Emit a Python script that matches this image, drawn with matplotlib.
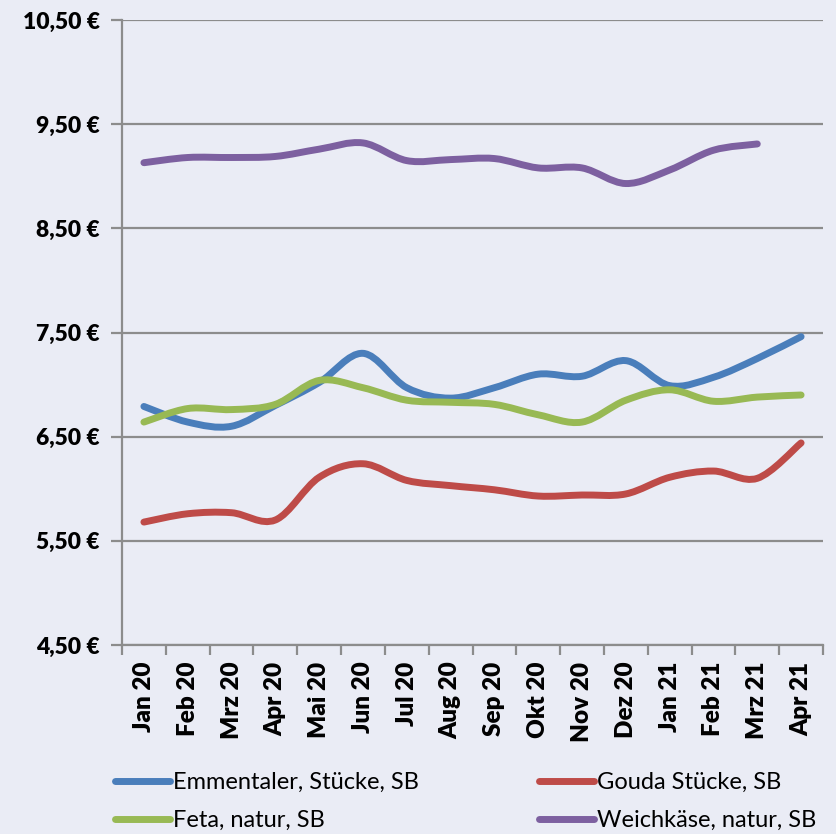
import numpy as np
import matplotlib
matplotlib.use('Agg')
from matplotlib import pyplot as plt
from matplotlib.path import Path
from matplotlib.patches import PathPatch
from matplotlib.lines import Line2D

plt.rcParams['font.family'] = ['Lato', 'DejaVu Sans']

# data
months = ['Jan 20', 'Feb 20', 'Mrz 20', 'Apr 20', 'Mai 20', 'Jun 20', 'Jul 20', 'Aug 20',
          'Sep 20', 'Okt 20', 'Nov 20', 'Dez 20', 'Jan 21', 'Feb 21', 'Mrz 21', 'Apr 21']
emmentaler = [6.79, 6.64, 6.60, 6.80, 7.02, 7.30, 6.97, 6.87, 6.97, 7.10, 7.08, 7.23, 6.99, 7.07, 7.25, 7.46]
gouda = [5.68, 5.76, 5.77, 5.70, 6.11, 6.24, 6.08, 6.03, 5.99, 5.93, 5.94, 5.95, 6.11, 6.17, 6.10, 6.44]
feta = [6.64, 6.77, 6.76, 6.81, 7.04, 6.97, 6.85, 6.83, 6.81, 6.71, 6.64, 6.85, 6.95, 6.84, 6.88, 6.90]
weichkaese = [9.13, 9.18, 9.18, 9.19, 9.26, 9.32, 9.15, 9.16, 9.17, 9.08, 9.08, 8.93, 9.06, 9.25, 9.31]

series = [
    ('Emmentaler, Stücke, SB', emmentaler, '#4A7EBB'),
    ('Feta, natur, SB', feta, '#98B954'),
    ('Gouda Stücke, SB', gouda, '#BE4B48'),
    ('Weichkäse, natur, SB', weichkaese, '#7D60A0'),
]

bg = '#EAECF5'
grid_col = '#8C8C8C'

fig = plt.figure(figsize=(8.36, 8.34), dpi=100, facecolor=bg)
ax = fig.add_axes([122/836, 1-645/834, (823-122)/836, (645-20)/834])
ax.set_facecolor(bg)


def smooth_path(xs, ys):
    # excel style smoothed line (bezier through every point)
    pts = np.column_stack([xs, ys])
    n = len(pts)
    verts = [pts[0]]
    codes = [Path.MOVETO]
    for i in range(n-1):
        p0 = pts[max(i-1, 0)]
        p1 = pts[i]
        p2 = pts[i+1]
        p3 = pts[min(i+2, n-1)]
        c1 = p1 + (p2 - p0)/6
        c2 = p2 - (p3 - p1)/6
        verts += [c1, c2, p2]
        codes += [Path.CURVE4]*3
    return Path(verts, codes)


handles = []
for name, vals, col in series:
    x = np.arange(len(vals))
    patch = PathPatch(smooth_path(x, vals), facecolor='none', edgecolor=col,
                      lw=5, capstyle='round', joinstyle='round', zorder=3)
    ax.add_patch(patch)
    handles.append(Line2D([], [], color=col, lw=5, solid_capstyle='round'))

ax.set_xlim(-0.5, len(months)-0.5)
ax.set_ylim(4.5, 10.5)

yt = np.arange(4.5, 10.51, 1.0)
ax.set_yticks(yt)
ax.set_yticklabels([('%.2f €' % v).replace('.', ',') for v in yt], fontsize=16.5, fontweight='heavy')
ax.yaxis.grid(True, color=grid_col, lw=1.6)
ax.set_axisbelow(True)

ax.set_xticks(np.arange(len(months)))
ax.set_xticklabels(months, rotation=90, fontsize=17.5, fontweight='heavy')
ax.set_xticks(np.arange(len(months)+1)-0.5, minor=True)
ax.tick_params(axis='x', which='major', length=0, pad=12)
ax.tick_params(axis='x', which='minor', length=7, width=1.6, color=grid_col, direction='out')
ax.tick_params(axis='y', length=8, width=1.6, color=grid_col, pad=8)

for s in ['top', 'right']:
    ax.spines[s].set_visible(False)
for s in ['left', 'bottom']:
    ax.spines[s].set_color(grid_col)
    ax.spines[s].set_linewidth(1.6)

fig.legend(handles, [s[0] for s in series], ncol=2, frameon=False,
           loc='upper left', bbox_to_anchor=(94/836, 1-751/834),
           fontsize=17, handlelength=2.3, handletextpad=0.15,
           columnspacing=5.1, labelspacing=0.7)

fig.savefig('out.png', dpi=100, facecolor=bg)
